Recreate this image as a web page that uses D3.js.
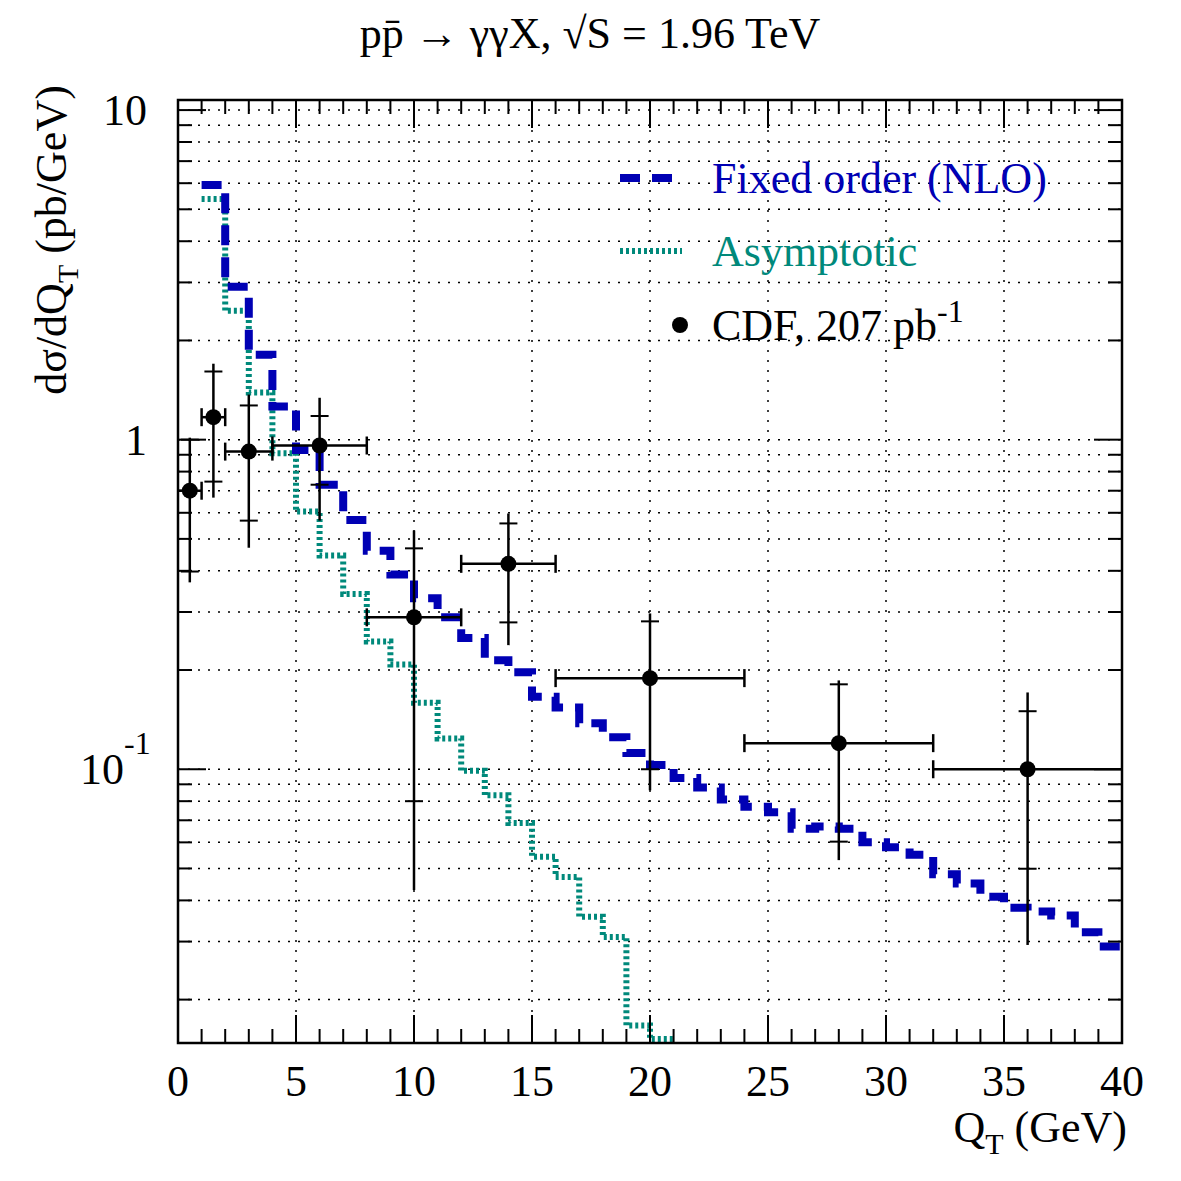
<!DOCTYPE html>
<html><head><meta charset="utf-8">
<script src="https://cdn.jsdelivr.net/npm/d3@7"></script>
<style>body{margin:0;background:#fff}</style>
</head><body>
<div id="grafico"></div>
<script>
// Datos: histogramas de 1 GeV empezando en QT = 1
const binStart = 1;
const nloValues = [5.93, 2.91, 1.81, 1.26, 0.93, 0.73, 0.57, 0.46, 0.39, 0.33,
  0.289, 0.25, 0.214, 0.197, 0.166, 0.154, 0.138, 0.125, 0.112, 0.103,
  0.094, 0.088, 0.081, 0.077, 0.074, 0.066, 0.067, 0.066, 0.060, 0.058,
  0.055, 0.048, 0.045, 0.041, 0.038, 0.037, 0.036, 0.032, 0.029];
const asymValues = [5.37, 2.46, 1.39, 0.91, 0.605, 0.445, 0.34, 0.244, 0.208, 0.159,
  0.124, 0.099, 0.0834, 0.0687, 0.0543, 0.0471, 0.0357, 0.031, 0.0167, 0.0152];

// Puntos CDF
const cdfX = [0.5, 1.5, 3, 6, 10, 14, 20, 28, 36];
const cdfXLo = [0, 1, 2, 4, 8, 12, 16, 24, 32];
const cdfXHi = [1, 2, 4, 8, 12, 16, 24, 32, 40];
const cdfY = [0.70, 1.17, 0.92, 0.96, 0.289, 0.42, 0.189, 0.12, 0.10];
const cdfTotLo = [0.369, 0.667, 0.47, 0.568, 0.043, 0.238, 0.0863, 0.053, 0.0293];
const cdfTotHi = [1.014, 1.70, 1.37, 1.34, 0.53, 0.597, 0.297, 0.186, 0.171];
const cdfStatLo = [0.398, 0.746, 0.568, 0.73, 0.08, 0.279, 0.1, 0.0603, 0.0499];
const cdfStatHi = [1.0, 1.61, 1.27, 1.18, 0.468, 0.557, 0.281, 0.181, 0.15];

const xTicks = [0, 5, 10, 15, 20, 25, 30, 35, 40];

const W = 1181, H = 1181;
const L = 178, R = 1122, T = 100, B = 1043;
const font = '"Liberation Serif", "DejaVu Serif", serif';
const blue = '#0000b4', teal = '#00897b';
const fs = 44;

const x = d3.scaleLinear().domain([0, 40]).range([L, R]);
const y = d3.scaleLog().domain([0.01477, 10.73]).range([B, T]);

const svg = d3.select('#grafico').append('svg').attr('width', W).attr('height', H)
  .style('font-family', font);

// Rejilla
const yMinor = [];
[0.01, 0.1, 1, 10].forEach(d => { for (let k = 1; k < 10; k++) { const v = d * k; if (v > 0.01477 && v < 10.73) yMinor.push(v); } });
svg.append('g').selectAll('line').data(yMinor).join('line')
  .attr('x1', L).attr('x2', R).attr('y1', d => y(d)).attr('y2', d => y(d))
  .attr('stroke', '#000').attr('stroke-width', 1.5).attr('stroke-dasharray', '2,8');
svg.append('g').selectAll('line').data(xTicks.slice(1, -1)).join('line')
  .attr('x1', d => x(d)).attr('x2', d => x(d)).attr('y1', T).attr('y2', B)
  .attr('stroke', '#000').attr('stroke-width', 1.5).attr('stroke-dasharray', '2,8');

// Histogramas
function stepPath(vals) {
  const pts = [];
  vals.forEach((v, i) => { pts.push([binStart + i, v]); pts.push([binStart + i + 1, v]); });
  return d3.line().x(d => x(d[0])).y(d => y(Math.max(d[1], 0.01477)))(pts);
}
svg.append('path').attr('d', stepPath(asymValues)).attr('fill', 'none')
  .attr('stroke', teal).attr('stroke-width', 6).attr('stroke-dasharray', '3,3');
svg.append('path').attr('d', stepPath(nloValues)).attr('fill', 'none')
  .attr('stroke', blue).attr('stroke-width', 8).attr('stroke-dasharray', '20,12');

// Puntos CDF con errores
const g = svg.append('g').attr('stroke', '#000').attr('stroke-width', 2.5);
cdfX.forEach((cx, i) => {
  const px = x(cx), py = y(cdfY[i]);
  g.append('line').attr('x1', x(cdfXLo[i])).attr('x2', x(cdfXHi[i])).attr('y1', py).attr('y2', py);
  [cdfXLo[i], cdfXHi[i]].forEach(e => {
    if (e > 0 && e < 40) g.append('line').attr('x1', x(e)).attr('x2', x(e)).attr('y1', py - 9).attr('y2', py + 9);
  });
  g.append('line').attr('x1', px).attr('x2', px).attr('y1', y(cdfTotHi[i])).attr('y2', y(cdfTotLo[i]));
  [cdfStatLo[i], cdfStatHi[i]].forEach(e => {
    g.append('line').attr('x1', px - 9).attr('x2', px + 9).attr('y1', y(e)).attr('y2', y(e)).attr('stroke-width', 2);
  });
  svg.append('circle').attr('cx', px).attr('cy', py).attr('r', 8).attr('fill', '#000');
});

// Marco
svg.append('rect').attr('x', L).attr('y', T).attr('width', R - L).attr('height', B - T)
  .attr('fill', 'none').attr('stroke', '#000').attr('stroke-width', 2.5);

// Marcas eje X
const xMinor = d3.range(0, 41);
svg.append('g').selectAll('line').data(xMinor).join('line')
  .attr('x1', d => x(d)).attr('x2', d => x(d))
  .attr('y1', B).attr('y2', d => B - (d % 5 === 0 ? 28 : 14))
  .attr('stroke', '#000').attr('stroke-width', 2);
svg.append('g').selectAll('line').data(xMinor).join('line')
  .attr('x1', d => x(d)).attr('x2', d => x(d))
  .attr('y1', T).attr('y2', d => T + (d % 5 === 0 ? 28 : 14))
  .attr('stroke', '#000').attr('stroke-width', 2);
svg.append('g').selectAll('text').data(xTicks).join('text')
  .attr('x', d => x(d)).attr('y', 1096).attr('text-anchor', 'middle')
  .attr('font-size', fs).text(d => d);

// Marcas eje Y
[L, R].forEach(edge => {
  const dir = edge === L ? 1 : -1;
  svg.append('g').selectAll('line').data(yMinor).join('line')
    .attr('x1', edge).attr('x2', d => edge + dir * ([0.1, 1, 10].includes(+d.toFixed(3)) ? 28 : 14))
    .attr('y1', d => y(d)).attr('y2', d => y(d))
    .attr('stroke', '#000').attr('stroke-width', 2);
});
svg.append('text').attr('x', 147).attr('y', y(10) + 15).attr('text-anchor', 'end').attr('font-size', fs).text('10');
svg.append('text').attr('x', 147).attr('y', y(1) + 15).attr('text-anchor', 'end').attr('font-size', fs).text('1');
const t01 = svg.append('text').attr('x', 80).attr('y', y(0.1) + 15).attr('font-size', fs);
t01.append('tspan').text('10');
t01.append('tspan').attr('dy', -30).attr('font-size', 32).text('-1');

// Titulos
svg.append('text').attr('x', 590).attr('y', 48).attr('text-anchor', 'middle').attr('font-size', fs)
  .text('pp\u0304 → γγX, √S = 1.96 TeV');

const xl = svg.append('text').attr('x', 1127).attr('y', 1142).attr('text-anchor', 'end').attr('font-size', fs);
xl.append('tspan').text('Q');
xl.append('tspan').attr('dy', 12).attr('font-size', 30).text('T');
xl.append('tspan').attr('dy', -12).text(' (GeV)');

const yl = svg.append('text').attr('transform', 'translate(66,' + 240 + ')rotate(-90)')
  .attr('text-anchor', 'middle').attr('font-size', fs);
yl.append('tspan').text('dσ/dQ');
yl.append('tspan').attr('dy', 12).attr('font-size', 30).text('T');
yl.append('tspan').attr('dy', -12).text(' (pb/GeV)');

// Leyenda
svg.append('line').attr('x1', 620).attr('x2', 682).attr('y1', 178).attr('y2', 178)
  .attr('stroke', blue).attr('stroke-width', 8).attr('stroke-dasharray', '20,12');
svg.append('text').attr('x', 712).attr('y', 193).attr('font-size', fs).attr('fill', blue).text('Fixed order (NLO)');
svg.append('line').attr('x1', 620).attr('x2', 682).attr('y1', 251).attr('y2', 251)
  .attr('stroke', teal).attr('stroke-width', 6).attr('stroke-dasharray', '3,3');
svg.append('text').attr('x', 712).attr('y', 266).attr('font-size', fs).attr('fill', teal).text('Asymptotic');
svg.append('circle').attr('cx', 680).attr('cy', 325).attr('r', 8).attr('fill', '#000');
const lc = svg.append('text').attr('x', 712).attr('y', 340).attr('font-size', fs);
lc.append('tspan').text('CDF, 207 pb');
lc.append('tspan').attr('dy', -18).attr('font-size', 32).text('-1');
</script>
</body></html>
